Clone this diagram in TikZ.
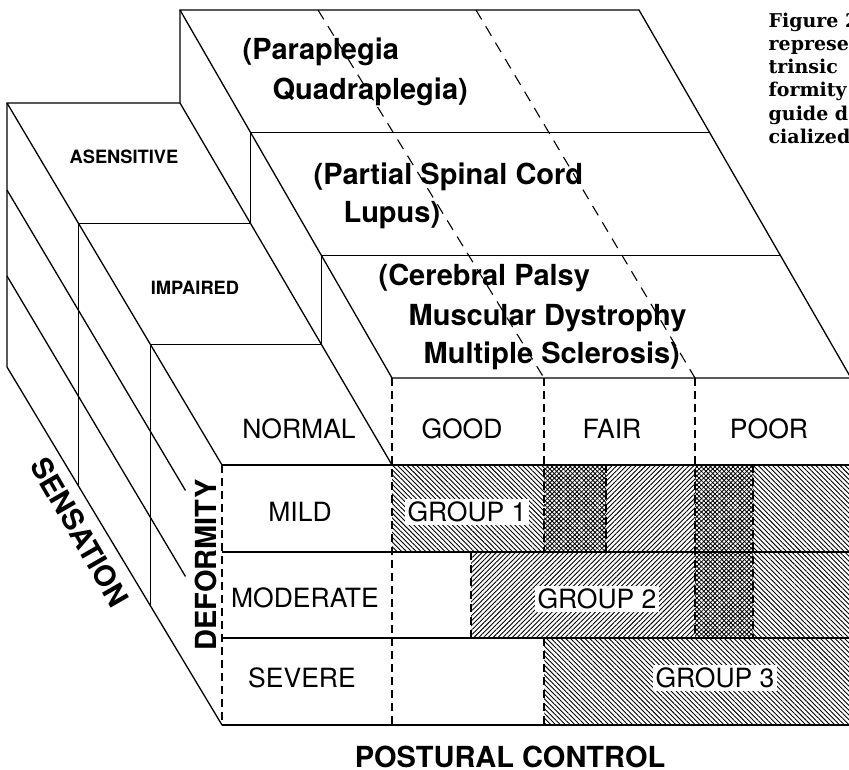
\documentclass[tikz,border=0pt]{standalone}
\usepackage{fontspec}
\setmainfont{TeX Gyre Heros}
\newfontfamily\capserif{DejaVu Serif}
\usetikzlibrary{calc,patterns.meta}

\begin{document}
\begin{tikzpicture}[x=1pt,y=-1pt,line width=1.3pt,line join=round,
  frontdash/.style={dash pattern=on 8pt off 5pt,line width=1.2pt},
  topdash/.style={dash pattern=on 11pt off 8pt,line width=1.1pt},
  cell/.style={inner sep=0pt,font=\fontsize{26.5}{30}\selectfont},
  disease/.style={inner sep=0pt,anchor=base west,font=\bfseries\fontsize{29}{33}\selectfont},
  axis/.style={inner sep=0pt,font=\bfseries\fontsize{29}{33}\selectfont},
  level/.style={inner sep=0pt,font=\bfseries\fontsize{18.3}{21}\selectfont},
  group/.style={cell,fill=white,inner sep=2.5pt},
  hatchdown/.style={pattern={Lines[angle=-45,distance=3.4pt,line width=0.9pt]}},
  hatchup/.style={pattern={Lines[angle=45,distance=3.4pt,line width=0.9pt]}},
  overlap/.style={pattern={Lines[angle=45,distance=3.2pt,line width=0.85pt]},
    postaction={pattern={Lines[angle=-45,distance=3.2pt,line width=0.85pt]}}}]
\useasboundingbox (0,0) rectangle (849,770);
\clip (0,0) rectangle (849,770);
\coordinate (T1) at (180,10); \coordinate (T2) at (639,10);
\coordinate (F1) at (392,378); \coordinate (F2) at (851,378);
\coordinate (L1) at (7,103); \coordinate (L2) at (180,103);
\coordinate (L3) at (392,465); \coordinate (L4) at (222,465);
\coordinate (B1) at (7,367); \coordinate (B2) at (222,725);
% shaded cells of the front face
\fill[hatchdown] (392,465) rectangle (544,552);
\fill[overlap] (544,465) rectangle (606,552);
\fill[hatchup] (606,465) rectangle (695,552);
\fill[overlap] (695,465) rectangle (753,638);
\fill[hatchdown] (753,465) rectangle (851,638);
\fill[hatchup] (471,552) rectangle (695,638);
\fill[hatchdown] (544,638) rectangle (851,725);
% top of the block
\draw (T1) -- (T2) -- (F2) -- (F1) -- cycle;
\foreach \f in {1/3,2/3} \draw ($(T1)!\f!(F1)$) -- ($(T2)!\f!(F2)$);
\draw[topdash] (318,10) -- (544,378);
\draw[topdash] (476,10) -- (695,378);
% side strip and label column
\draw (T1) -- (L2) -- (L3);
\foreach \f in {1/3,2/3} \draw ($(T1)!\f!(F1)$) -- ($(L2)!\f!(L3)$);
\draw (L2) -- (L1) -- (L4) -- (L3);
\foreach \f in {1/3,2/3} \draw ($(L1)!\f!(L4)$) -- ($(L2)!\f!(L3)$);
\draw (L1) -- (B1) -- (B2);
\foreach \f in {1/3,2/3} \draw ($(L1)!\f!(L4)$) -- ($(B1)!\f!(B2)$);
\foreach \y in {552,638} \draw (7,\y-362) -- ($(7,\y-362)!0.83!(222,\y)$);
% front face
\foreach \y in {465,552,638,725} \draw (222,\y) -- (851,\y);
\draw (F2) -- (851,725);
\draw[frontdash] (L4) -- (B2);
\draw[frontdash] (F1) -- (392,725);
\draw[frontdash] (544,378) -- (544,552) (544,638) -- (544,725);
\draw[frontdash] (695,378) -- (695,638);
\draw[frontdash] (606,465) -- (606,552);
\draw[frontdash] (753,465) -- (753,638);
\draw[frontdash] (471,552) -- (471,638);
% labels
\node[disease] (para) at (242,60) {(Paraplegia};
\node[disease] (quad) at (272,100) {Quadraplegia)};
\node[disease] (spinal) at (313,185) {(Partial Spinal Cord};
\node[disease] (lupus) at (343,223) {Lupus)};
\node[disease] (palsy) at (378,285) {(Cerebral Palsy};
\node[disease] (dystro) at (408,325) {Muscular Dystrophy};
\node[disease] (sclero) at (423,363) {Multiple Sclerosis)};
\node[level] (asens) at (124,157) {ASENSITIVE};
\node[level] (impair) at (195,288) {IMPAIRED};
\node[cell] (normal) at (299,429) {NORMAL};
\foreach \n/\t/\x in {good/GOOD/462,fair/FAIR/612,poor/POOR/769}
  \node[cell] (\n) at (\x,429) {\t};
\foreach \n/\t/\x/\y in {mild/MILD/300/512,moder/MODERATE/305/598,severe/SEVERE/302/678}
  \node[cell] (\n) at (\x,\y) {\t};
\node[group] (grp1) at (467,512) {GROUP 1};
\node[group] (grp2) at (597,599) {GROUP 2};
\node[group] (grp3) at (715,678) {GROUP 3};
\node[axis,rotate=-60] (sens) at (80,532) {SENSATION};
\node[axis,rotate=90] (deform) at (206,565) {DEFORMITY};
\node[axis] (postural) at (510,757) {POSTURAL CONTROL};
\node[inner sep=0pt,anchor=north west,align=left,
  font=\capserif\bfseries\fontsize{19}{23.3}\selectfont] (caption) at (768,12)
  {Figure 2\\represent\\trinsic\\formity\\guide d\\cialized};
\end{tikzpicture}
\end{document}
